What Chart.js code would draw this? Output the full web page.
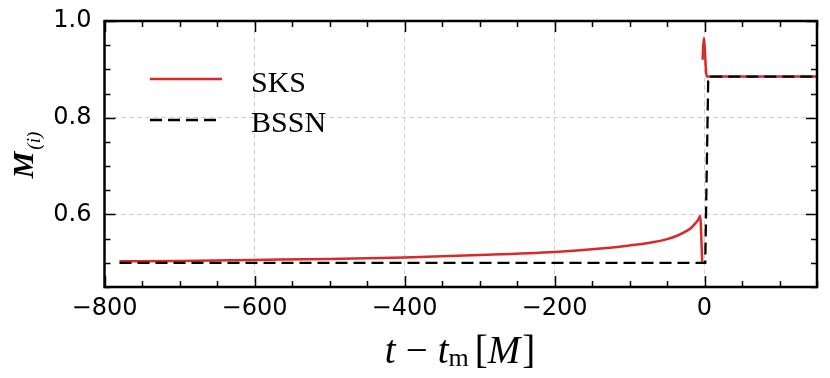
<!DOCTYPE html>
<html>
<head>
<meta charset="utf-8">
<script src="https://cdn.jsdelivr.net/npm/chart.js@4"></script>
<style>
    body { margin: 0; background: #fff; }
    #wrap { width: 830px; height: 378px; }
</style>
</head>
<body>
<div id="wrap"><canvas id="chart" width="830" height="378"></canvas></div>
<script>
// Data
const sksT = [-780, -700, -600, -500, -400, -300, -200, -150, -100, -75, -50, -35, -25, -18, -12, -8, -5.8, -3, -2.8, -2.5, -1, 3, 150];
const sksM = [0.503, 0.504, 0.506, 0.508, 0.511, 0.516, 0.5225, 0.528, 0.536, 0.541, 0.549, 0.557, 0.565, 0.572, 0.582, 0.590, 0.597, 0.5, null, 0.92, 0.965, 0.885, 0.885];
const bssnT = [-780, 1, 5, 150];
const bssnM = [0.5, 0.5, 0.885, 0.885];

const xTicks = [-800, -600, -400, -200, 0];
const yTicks = [0.6, 0.8, 1.0];
const xMinor = 50;
const yMinor = 0.05;

const RED = '#d92a2a';
const toPoints = (xs, ys) => xs.map((x, i) => ({ x: x, y: ys[i] }));

// Inward ticks on all four sides, frame, legend, axis titles
const decorations = {
    id: 'decorations',
    afterDraw(chart) {
        const ctx = chart.ctx;
        const a = chart.chartArea;
        const xs = chart.scales.x, ys = chart.scales.y;
        ctx.save();
        ctx.strokeStyle = '#000';

        // minor + major ticks
        ctx.lineWidth = 1.5;
        for (let v = xs.min; v <= xs.max + 1e-9; v += xMinor) {
            const px = Math.round(xs.getPixelForValue(v)) + 0.5;
            const len = xTicks.includes(v) ? 11 : 6;
            ctx.beginPath();
            ctx.moveTo(px, a.bottom); ctx.lineTo(px, a.bottom - len);
            ctx.moveTo(px, a.top); ctx.lineTo(px, a.top + len);
            ctx.stroke();
        }
        for (let k = 0; ; k++) {
            const v = ys.min + k * yMinor;
            if (v > ys.max + 1e-9) break;
            const py = Math.round(ys.getPixelForValue(v)) + 0.5;
            const len = yTicks.some(t => Math.abs(t - v) < 1e-6) ? 11 : 6;
            ctx.beginPath();
            ctx.moveTo(a.left, py); ctx.lineTo(a.left + len, py);
            ctx.moveTo(a.right, py); ctx.lineTo(a.right - len, py);
            ctx.stroke();
        }

        // frame
        ctx.lineWidth = 2.5;
        ctx.strokeRect(a.left, a.top, a.right - a.left, a.bottom - a.top);

        // legend
        const lx = 150, ly1 = 79, ly2 = 120;
        ctx.lineWidth = 2.5;
        ctx.strokeStyle = RED;
        ctx.beginPath(); ctx.moveTo(lx, ly1); ctx.lineTo(lx + 72, ly1); ctx.stroke();
        ctx.strokeStyle = '#000';
        ctx.setLineDash([12, 6]);
        ctx.beginPath(); ctx.moveTo(lx, ly2); ctx.lineTo(lx + 72, ly2); ctx.stroke();
        ctx.setLineDash([]);
        ctx.fillStyle = '#000';
        ctx.font = '30px "Liberation Serif", "DejaVu Serif", serif';
        ctx.textBaseline = 'alphabetic';
        ctx.textAlign = 'left';
        ctx.fillText('SKS', 251, 92);
        ctx.fillText('BSSN', 251, 132);

        // x title: t − t_m [M]
        const it = 'italic 39px "Liberation Serif", "DejaVu Serif", serif';
        const up = '39px "Liberation Serif", "DejaVu Serif", serif';
        const sub = '26px "Liberation Serif", "DejaVu Serif", serif';
        const parts = [
            { t: 't', f: it, dy: 0, gap: 10 },
            { t: '\u2212', f: up, dy: 0, gap: 10 },
            { t: 't', f: it, dy: 0, gap: 0 },
            { t: 'm', f: sub, dy: 3, gap: 6 },
            { t: '[', f: up, dy: 0, gap: 0 },
            { t: 'M', f: it, dy: 0, gap: 2 },
            { t: ']', f: up, dy: 0, gap: 0 }
        ];
        let total = 0;
        parts.forEach(p => { ctx.font = p.f; p.w = ctx.measureText(p.t).width; total += p.w + p.gap; });
        let cx = 460 - total / 2;
        const by = 363;
        parts.forEach(p => { ctx.font = p.f; ctx.fillText(p.t, cx, by + p.dy); cx += p.w + p.gap; });

        // y title: M_(i), rotated
        const mf = 'bold italic 30px "Liberation Serif", "DejaVu Serif", serif';
        const sf = 'italic 19px "Liberation Serif", "DejaVu Serif", serif';
        ctx.font = mf;
        const mw = ctx.measureText('M').width;
        ctx.font = sf;
        const sw = ctx.measureText('(i)').width;
        ctx.translate(33, 155);
        ctx.rotate(-Math.PI / 2);
        const sx = -(mw + sw + 2) / 2;
        ctx.font = mf;
        ctx.fillText('M', sx, 0);
        ctx.font = sf;
        ctx.fillText('(i)', sx + mw + 2, 7);
        ctx.restore();
    }
};

new Chart(document.getElementById('chart'), {
    type: 'line',
    data: {
        datasets: [
            {
                label: 'BSSN',
                data: toPoints(bssnT, bssnM),
                borderColor: '#000',
                borderWidth: 2.3,
                borderDash: [12, 6],
                pointRadius: 0,
                tension: 0,
                order: 0
            },
            {
                label: 'SKS',
                data: toPoints(sksT, sksM),
                borderColor: RED,
                borderWidth: 2.5,
                pointRadius: 0,
                cubicInterpolationMode: 'monotone',
                spanGaps: false,
                order: 1
            }
        ]
    },
    options: {
        responsive: false,
        animation: false,
        layout: { padding: { top: 21, right: 13, left: 0, bottom: 0 } },
        plugins: {
            legend: { display: false },
            tooltip: { enabled: false }
        },
        scales: {
            x: {
                type: 'linear',
                min: -800,
                max: 150,
                afterBuildTicks: s => { s.ticks = xTicks.map(v => ({ value: v })); },
                afterFit: s => { s.height = 91; s.paddingLeft = 0; s.paddingRight = 0; },
                border: { display: false, dash: [5, 3] },
                grid: { color: '#d2d2d2', lineWidth: 1, drawTicks: false },
                ticks: {
                    color: '#000',
                    padding: 7,
                    maxRotation: 0,
                    font: { family: '"DejaVu Sans", sans-serif', size: 24 },
                    callback: v => (v < 0 ? '\u2212' + Math.abs(v) : String(v))
                }
            },
            y: {
                min: 0.45,
                max: 1.0,
                afterBuildTicks: s => { s.ticks = yTicks.map(v => ({ value: v })); },
                afterFit: s => { s.width = 104.5; s.paddingTop = 0; s.paddingBottom = 0; },
                border: { display: false, dash: [5, 3] },
                grid: { color: '#d2d2d2', lineWidth: 1, drawTicks: false },
                ticks: {
                    color: '#000',
                    padding: 13,
                    font: { family: '"DejaVu Sans", sans-serif', size: 24 },
                    callback: v => v.toFixed(1)
                }
            }
        }
    },
    plugins: [decorations]
});
</script>
</body>
</html>
